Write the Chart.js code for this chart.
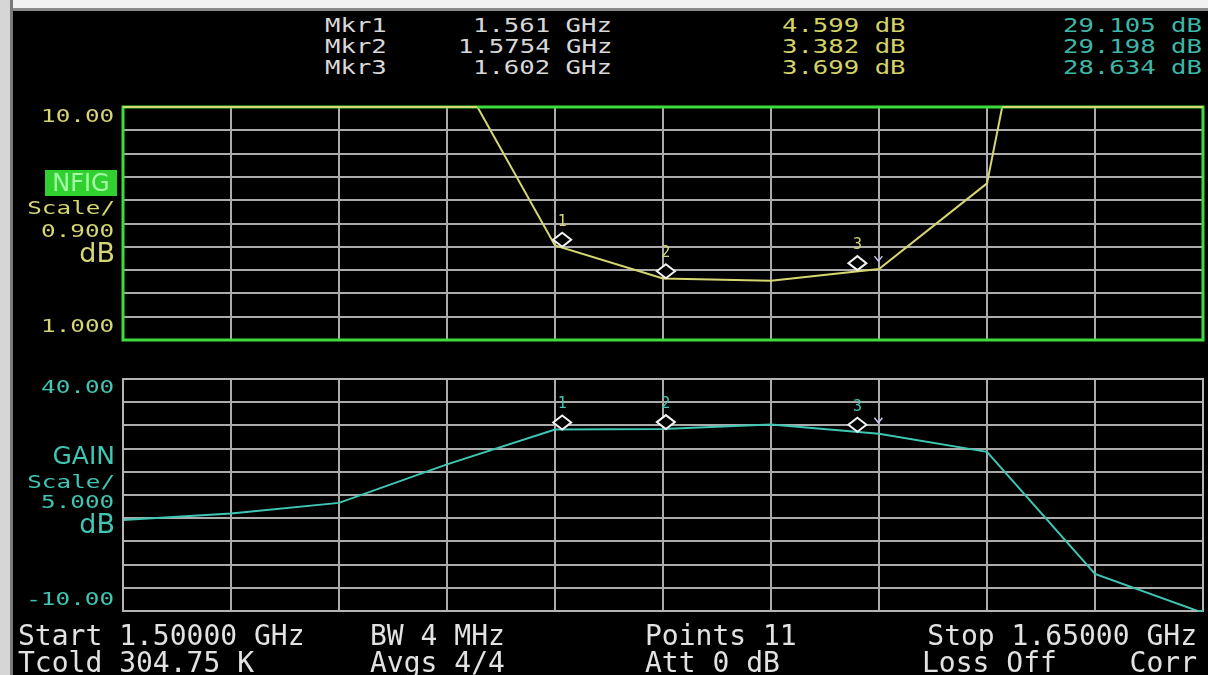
<!DOCTYPE html>
<html>
<head>
<meta charset="utf-8">
<title>NFIG / GAIN</title>
<script src="https://cdn.jsdelivr.net/npm/chart.js@4.4.0/dist/chart.umd.min.js"></script>
<style>
  html, body { margin: 0; padding: 0; background: #000; overflow: hidden; }
  #screen { position: relative; width: 1208px; height: 675px; background: #000; overflow: hidden; }
  #topStrip { position: absolute; left: 0; top: 0; width: 1208px; height: 8px; background: #f2f2f2; border-bottom: 3px solid #8a8a8a; }
  #leftStrip { position: absolute; left: 0; top: 0; width: 10px; height: 675px; background: #d6d6d6; border-right: 3px solid #7a7a7a; }
  canvas { position: absolute; }
  .t { position: absolute; white-space: pre; font-family: "DejaVu Sans Mono", monospace; }
  #nfig { position: absolute; left: 45px; top: 170px; width: 72px; height: 26px; background: #2fd02f; color: #a6ffa6;
          font: 24px "DejaVu Sans", sans-serif; line-height: 26px; text-align: center; }
</style>
</head>
<body>
<div id="screen">
  <div id="topStrip"></div>
  <div id="leftStrip"></div>
  <canvas id="nfChart" width="1095" height="253" style="left:113px; top:97px"></canvas>
  <canvas id="gainChart" width="1095" height="252" style="left:113px; top:369px"></canvas>
  <div id="nfig">NFIG</div>
</div>
<script>
// sweep points (11 points, 1.50 - 1.65 GHz)
const freqMHz = [1500, 1515, 1530, 1545, 1560, 1575, 1590, 1605, 1620, 1635, 1650];
const nfDb    = [22.0, 18.5, 15.0, 12.1, 4.65, 3.38, 3.29, 3.74, 7.05, 28.0, 34.0];
const gainDb  = [9.6, 11.0, 13.3, 21.6, 29.1, 29.2, 30.2, 28.2, 24.3, -2.0, -10.4];

// markers
const markerNames   = ['Mkr1', 'Mkr2', 'Mkr3'];
const markerFreqMHz = [1561, 1575.4, 1602];
const markerFreqText = ['1.561 GHz', '1.5754 GHz', '1.602 GHz'];
const markerNF   = [4.599, 3.382, 3.699];
const markerGain = [29.105, 29.198, 28.634];

// y scales + tick labels
const nfRange = [1, 10];
const gainRange = [-10, 40];
const nfTickLabels = ['10.00', '1.000'];
const gainTickLabels = ['40.00', '-10.00'];
const nfScaleText = ['Scale/', '0.900', 'dB'];
const gainScaleText = ['GAIN', 'Scale/', '5.000', 'dB'];

// status line
const footerLeft  = ['Start 1.50000 GHz', 'Tcold 304.75 K'];
const footerMid1  = ['BW 4 MHz', 'Avgs 4/4'];
const footerMid2  = ['Points 11', 'Att 0 dB'];
const footerRight = ['Stop 1.65000 GHz', 'Corr'];
const footerLoss  = 'Loss Off';

const GRID = '#ababab';
const NF_COLOR = '#d6d672';
const GAIN_COLOR = '#3fc6b4';
const ACTIVE_MARKER = 2;

const screen = document.getElementById('screen');

function addText(str, x, base, o) {
  const size = o.size;
  const el = document.createElement('div');
  el.className = 't';
  el.textContent = str;
  el.style.fontSize = size + 'px';
  el.style.lineHeight = size + 'px';
  el.style.top = (base - 0.846 * size) + 'px';
  el.style.color = o.color;
  if (o.family) el.style.fontFamily = o.family;
  const sx = o.sx || 1;
  if (o.align === 'right') {
    el.style.right = (1208 - x) + 'px';
    el.style.transformOrigin = 'right center';
  } else {
    el.style.left = x + 'px';
    el.style.transformOrigin = 'left center';
  }
  if (sx !== 1) el.style.transform = 'scaleX(' + sx + ')';
  screen.appendChild(el);
}

// header marker table
const small = { size: 19, sx: 1.35 };
[32, 53, 74].forEach((b, i) => {
  addText(markerNames[i], 325, b, { ...small, color: '#d8d8d8' });
  addText(markerFreqText[i], 612, b, { ...small, color: '#d8d8d8', align: 'right' });
  addText(markerNF[i].toFixed(3) + ' dB', 906, b, { ...small, color: '#d4d466', align: 'right' });
  addText(markerGain[i].toFixed(3) + ' dB', 1202, b, { ...small, color: '#3cb8a8', align: 'right' });
});

// left side labels
const side = { size: 18, sx: 1.35, align: 'right' };
const big = { size: 27, family: '"DejaVu Sans", sans-serif', align: 'right' };
addText(nfTickLabels[0], 114, 122, { ...side, color: NF_COLOR });
addText(nfScaleText[0], 115, 214, { ...side, color: NF_COLOR });
addText(nfScaleText[1], 114, 237, { ...side, color: NF_COLOR });
addText(nfScaleText[2], 115, 262, { ...big, color: NF_COLOR });
addText(nfTickLabels[1], 114, 332, { ...side, color: NF_COLOR });

addText(gainTickLabels[0], 114, 393, { ...side, color: GAIN_COLOR });
addText(gainScaleText[0], 115, 464, { ...big, size: 25, color: GAIN_COLOR });
addText(gainScaleText[1], 115, 488, { ...side, color: GAIN_COLOR });
addText(gainScaleText[2], 114, 508, { ...side, color: GAIN_COLOR });
addText(gainScaleText[3], 115, 533, { ...big, color: GAIN_COLOR });
addText(gainTickLabels[1], 114, 605, { ...side, color: GAIN_COLOR });

// footer
const foot = { size: 28, color: '#e2e2e2' };
addText(footerLeft[0], 18, 646, foot);
addText(footerLeft[1], 18, 673, foot);
addText(footerMid1[0], 370, 646, foot);
addText(footerMid1[1], 370, 673, foot);
addText(footerMid2[0], 645, 646, foot);
addText(footerMid2[1], 645, 673, foot);
addText(footerRight[0], 1197, 646, { ...foot, align: 'right' });
addText(footerLoss, 922, 673, foot);
addText(footerRight[1], 1197, 673, { ...foot, align: 'right' });

// frame, off-scale trace pinned to the edge, marker diamonds
const screenFrame = {
  id: 'screenFrame',
  afterDatasetsDraw(chart, args, o) {
    const { ctx, chartArea: a, scales: { x, y } } = chart;
    ctx.save();
    ctx.strokeStyle = o.frame;
    ctx.lineWidth = o.frameWidth;
    ctx.strokeRect(a.left, a.top, a.right - a.left, a.bottom - a.top);

    const pts = chart.getDatasetMeta(0).data;
    ctx.strokeStyle = o.trace;
    ctx.lineWidth = 2;
    [a.top, a.bottom].forEach((edge, k) => {
      const out = k === 0 ? (py => py < edge) : (py => py > edge);
      for (let i = 0; i < pts.length - 1; i++) {
        const p = pts[i], q = pts[i + 1];
        if (!out(p.y) && !out(q.y)) continue;
        const xc = p.x + (q.x - p.x) * (edge - p.y) / (q.y - p.y);
        const x0 = out(p.y) ? p.x : xc;
        const x1 = out(q.y) ? q.x : xc;
        ctx.beginPath();
        ctx.moveTo(x0, edge);
        ctx.lineTo(x1, edge);
        ctx.stroke();
      }
    });

    o.markers.forEach((v, i) => {
      const mx = x.getPixelForValue(markerFreqMHz[i]);
      const my = y.getPixelForValue(v) - 7;
      ctx.beginPath();
      ctx.moveTo(mx, my - 7);
      ctx.lineTo(mx + 9, my);
      ctx.lineTo(mx, my + 7);
      ctx.lineTo(mx - 9, my);
      ctx.closePath();
      ctx.fillStyle = '#000';
      ctx.fill();
      ctx.strokeStyle = '#f2f2f2';
      ctx.lineWidth = 2;
      ctx.stroke();

      ctx.fillStyle = o.trace;
      ctx.font = '15px "DejaVu Sans Mono"';
      ctx.textAlign = 'center';
      ctx.textBaseline = 'middle';
      ctx.fillText(String(i + 1), mx, my - 18);

      if (i === ACTIVE_MARKER) {
        ctx.strokeStyle = '#c4c4e4';
        ctx.lineWidth = 1.5;
        ctx.beginPath();
        ctx.moveTo(mx + 17, my - 7);
        ctx.lineTo(mx + 21, my - 2);
        ctx.lineTo(mx + 25, my - 7);
        ctx.stroke();
      }
    });
    ctx.restore();
  }
};

function makePanel(canvasId, values, range, cfg) {
  const axisGrid = { color: GRID, lineWidth: 2, drawTicks: false };
  return new Chart(document.getElementById(canvasId), {
    type: 'line',
    data: {
      datasets: [{
        data: freqMHz.map((f, i) => ({ x: f, y: values[i] })),
        borderColor: cfg.trace,
        borderWidth: 2,
        pointRadius: 0,
        tension: 0,
        clip: 0
      }]
    },
    options: {
      responsive: false,
      animation: false,
      events: [],
      layout: { padding: { left: 10, right: 5, top: 10, bottom: 10 } },
      plugins: {
        legend: { display: false },
        tooltip: { enabled: false },
        screenFrame: cfg
      },
      scales: {
        x: {
          type: 'linear', min: freqMHz[0], max: freqMHz[freqMHz.length - 1],
          ticks: { display: false, count: 11 },
          grid: axisGrid, border: { display: false }
        },
        y: {
          type: 'linear', min: range[0], max: range[1],
          ticks: { display: false, count: 11 },
          grid: axisGrid, border: { display: false }
        }
      }
    },
    plugins: [screenFrame]
  });
}

makePanel('nfChart', nfDb, nfRange, { trace: NF_COLOR, frame: '#3ddc3d', frameWidth: 3, markers: markerNF });
makePanel('gainChart', gainDb, gainRange, { trace: GAIN_COLOR, frame: '#b4b4b4', frameWidth: 2, markers: markerGain });
</script>
</body>
</html>
